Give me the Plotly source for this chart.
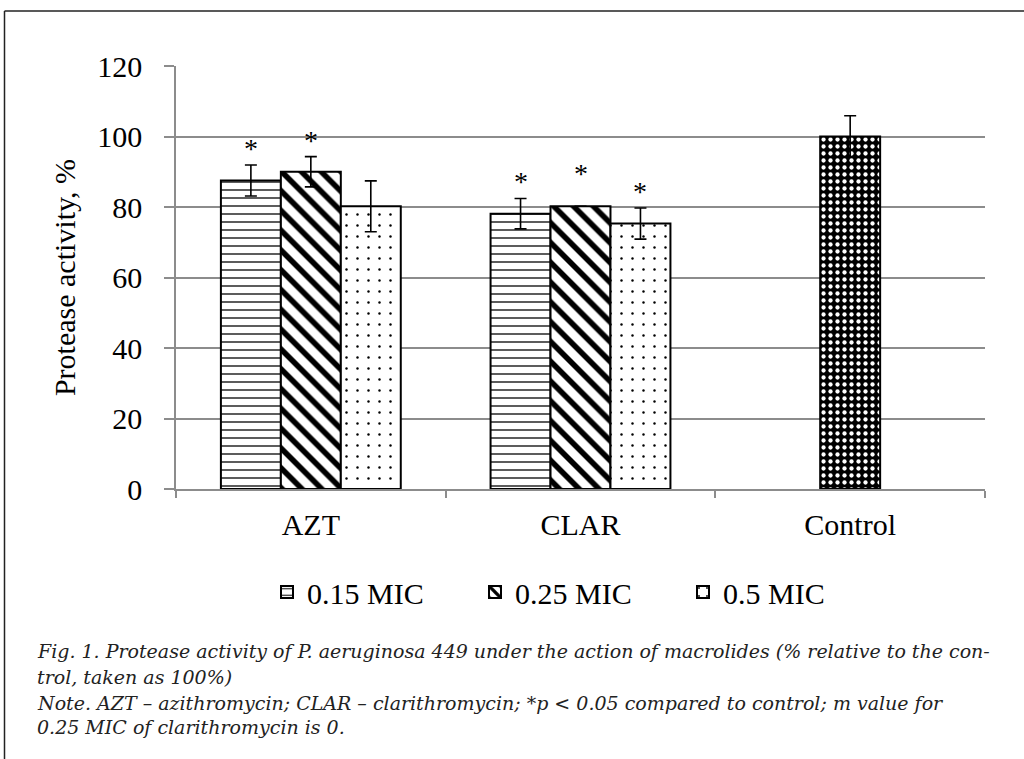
import plotly.graph_objects as go

# ---------------- data ----------------
categories = ["AZT", "CLAR", "Control"]
treat_categories = ["AZT", "CLAR"]
series_names = ["0.15 MIC", "0.25 MIC", "0.5 MIC"]

mic_015 = [87.5, 78.1]
err_015 = [4.4, 4.3]
mic_025 = [90.0, 80.2]
err_025 = [4.3, 0.0]
mic_05 = [80.2, 75.3]
err_05 = [7.2, 4.4]

control_val = [100.0]
control_err = [5.9]

# significance marks ("*") and the height they are printed at
stars_015 = ["*", "*"]
star_y_015 = [96.6, 87.3]
stars_025 = ["*", "*"]
star_y_025 = [98.9, 89.5]
stars_05 = ["", "*"]
star_y_05 = [None, 84.4]

y_ticks = [0, 20, 40, 60, 80, 100, 120]

caption_lines = [
    "Fig. 1. Protease activity of P. aeruginosa 449 under the action of macrolides (% relative to the con-",
    "trol, taken as 100%)",
    "Note. AZT \u2013 azithromycin; CLAR \u2013 clarithromycin; *p < 0.05 compared to control; m value for",
    "0.25 MIC of clarithromycin is 0.",
]

# ---------------- layout constants ----------------
W, H = 1024, 759
ML, MR, MT, MB = 176, 39, 66, 270
PW = W - ML - MR
PH = H - MT - MB
BARGAP = 0.333
FONT = "Liberation Serif"
FS = 30
GRID = "#8c8c8c"


def px_x(px):
    return (px - ML) / PW


def px_y(py):
    return (H - MB - py) / PH


fig = go.Figure()

series = [
    (series_names[0], mic_015, err_015, "a",
     dict(shape="-", size=8, solidity=0.16, fgcolor="black", bgcolor="white", fillmode="replace")),
    (series_names[1], mic_025, err_025, "b",
     dict(shape="\\", size=14, solidity=0.4, fgcolor="black", bgcolor="white", fillmode="replace")),
    (series_names[2], mic_05, err_05, "c",
     dict(shape=".", size=11, solidity=0.04, fgcolor="black", bgcolor="white", fillmode="replace")),
]

for name, vals, errs, og, pat in series:
    fig.add_trace(go.Bar(
        x=treat_categories, y=vals, name=name, offsetgroup=og,
        marker=dict(color="white", line=dict(color="black", width=2), pattern=pat),
        error_y=dict(type="data", array=errs, visible=True, color="black",
                     thickness=1.6, width=6),
    ))

fig.add_trace(go.Bar(
    x=["Control"], y=control_val, name="Control", offsetgroup="b", showlegend=False,
    marker=dict(color="black", line=dict(color="black", width=2),
                pattern=dict(shape=".", size=7, solidity=0.3, fgcolor="white",
                             bgcolor="black", fillmode="replace")),
    error_y=dict(type="data", array=control_err, visible=True, color="black",
                 thickness=1.6, width=6),
))

# asterisks, positioned within each category group
slot = (1 - BARGAP) / 3
for k, (stars, ys) in enumerate([(stars_015, star_y_015), (stars_025, star_y_025), (stars_05, star_y_05)]):
    for i, (s, yv) in enumerate(zip(stars, ys)):
        if s and yv is not None:
            fig.add_annotation(
                x=i + (k - 1) * slot, y=yv, xref="x", yref="y", text=s,
                showarrow=False, font=dict(family=FONT, size=28, color="black"),
                yanchor="middle", yshift=0,
            )

# caption
cap_y = [651, 677, 703, 727]
for line, py in zip(caption_lines, cap_y):
    fig.add_annotation(
        x=px_x(35), y=px_y(py), xref="paper", yref="paper", xanchor="left",
        yanchor="middle", showarrow=False, text="<i>" + line.replace("<", "&lt;") + "</i>",
        font=dict(family="DejaVu Serif", size=19, color="#222222"), align="left",
    )

# outer frame (top and left edges)
fig.add_shape(type="line", xref="paper", yref="paper", x0=px_x(4.5), x1=px_x(1030),
              y0=px_y(11), y1=px_y(11), line=dict(color="#222222", width=1.5))
fig.add_shape(type="line", xref="paper", yref="paper", x0=px_x(4.5), x1=px_x(4.5),
              y0=px_y(11), y1=px_y(765), line=dict(color="#222222", width=1.5))

fig.update_layout(
    width=W, height=H,
    margin=dict(l=ML, r=MR, t=MT, b=MB, autoexpand=False),
    paper_bgcolor="white", plot_bgcolor="white",
    barmode="group", bargap=BARGAP, bargroupgap=0,
    font=dict(family=FONT, size=FS, color="black"),
    showlegend=True,
    legend=dict(
        orientation="h", x=px_x(267), y=px_y(592), xanchor="left", yanchor="middle",
        font=dict(family=FONT, size=FS, color="black"),
        itemwidth=30, entrywidth=163, traceorder="normal",
        bgcolor="rgba(0,0,0,0)",
    ),
    xaxis=dict(
        type="category", categoryorder="array", categoryarray=categories,
        range=[-0.5, 2.5],
        showgrid=False, showline=True, linecolor=GRID, linewidth=1.5,
        ticks="outside", tickson="boundaries", ticklen=7, tickcolor=GRID, tickwidth=1.5,
        tickfont=dict(family=FONT, size=FS), ticklabelstandoff=8,
    ),
    yaxis=dict(
        range=[0, 120], tickvals=y_ticks,
        showgrid=True, gridcolor=GRID, gridwidth=1.5,
        showline=True, linecolor=GRID, linewidth=1.5,
        ticks="outside", ticklen=10, tickcolor=GRID, tickwidth=1.5,
        tickfont=dict(family=FONT, size=FS), ticklabelstandoff=16,
        title=dict(text="Protease activity, %", font=dict(family=FONT, size=FS), standoff=13),
        zeroline=False,
    ),
)

fig.write_html("out.html", config={"displayModeBar": False},
               post_script="document.body.style.margin='0';")
